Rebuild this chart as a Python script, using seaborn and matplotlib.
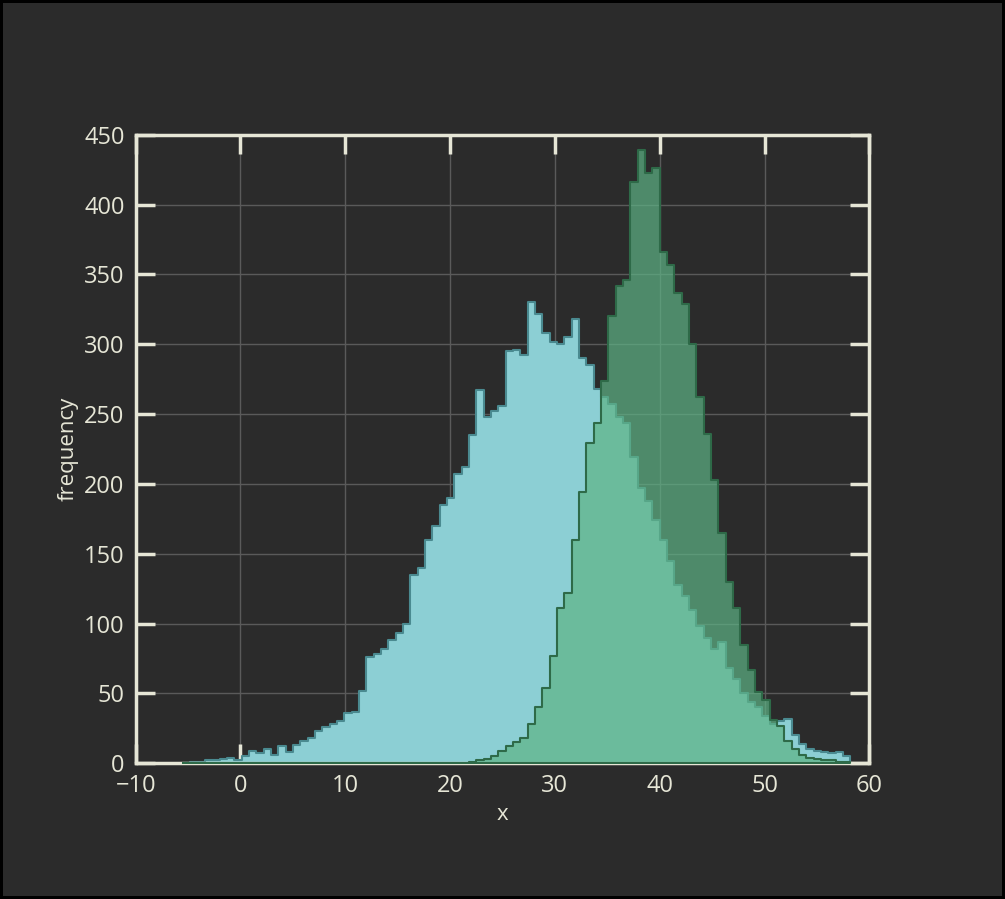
import numpy as np
import pandas as pd
import matplotlib
matplotlib.use("Agg")
import matplotlib.pyplot as plt
import seaborn as sns

bin_start = -5.5
bin_width = 0.7
cyan_counts = [0,1,1,2,2,3,4,2,
               5,9,7,10,6,12,8,13,
               16,18,23,26,28,30,36,37,
               52,76,78,82,88,93,100,135,
               140,160,170,185,190,207,212,235,
               267,248,252,256,295,296,292,330,
               322,308,302,300,305,318,290,285,
               268,262,257,248,244,219,197,188,
               174,160,145,128,120,110,98,90,
               82,87,68,60,50,44,40,34,
               28,30,32,20,14,10,9,8,
               7,8,5]
green_counts = [0]*39 + [1,2,3,5,9,12,15,18,28,
                40,54,77,111,122,160,194,229,
                244,274,320,342,346,416,439,423,
                426,366,357,337,329,300,262,236,
                203,165,130,111,85,67,51,45,
                31,27,16,10,6,4,3,2,
                2,1,1]
n = len(cyan_counts)
edges = bin_start + bin_width*np.arange(n+1)
centers = (edges[:-1]+edges[1:])/2
df = pd.DataFrame({"x": centers, "cyan": cyan_counts, "green": green_counts})

sns.set_theme(style="dark")
plt.rcParams['font.family'] = ['Open Sans', 'DejaVu Sans']
bg = "#2b2b2b"; fg = "#e6e6d6"
fig = plt.figure(figsize=(10.05, 8.99), dpi=100, facecolor=bg, edgecolor="black", linewidth=3)
ax = fig.add_axes([0.135, 0.151, 0.73, 0.699])
ax.set_facecolor(bg)

sns.histplot(data=df, x="x", weights="cyan", bins=list(edges), element="step", fill=True,
             color="#8ccfd4", alpha=1.0, edgecolor="#4a8a90", linewidth=1.5, ax=ax, zorder=2)
sns.histplot(data=df, x="x", weights="green", bins=list(edges), element="step", fill=True,
             color="#5db385", alpha=0.7, edgecolor="#2e6a48", linewidth=1.5, ax=ax, zorder=3)

ax.set_xlim(-10, 60); ax.set_ylim(0, 450)
ax.set_xticks(np.arange(-10, 61, 10)); ax.set_yticks(np.arange(0, 451, 50))
ax.grid(True, color="#5a5a5a", linewidth=1)
ax.set_axisbelow(True)
for s in ax.spines.values():
    s.set_color(fg); s.set_linewidth(2.5); s.set_visible(True)
ax.tick_params(direction="in", length=14, width=2.5, color=fg, labelcolor=fg,
               labelsize=17, top=True, right=True, bottom=True, left=True, pad=8)
ax.set_xlabel("x", color=fg, fontsize=16)
ax.set_ylabel("frequency", color=fg, fontsize=16)
fig.savefig("out.png", dpi=100, facecolor=bg, edgecolor="black")
